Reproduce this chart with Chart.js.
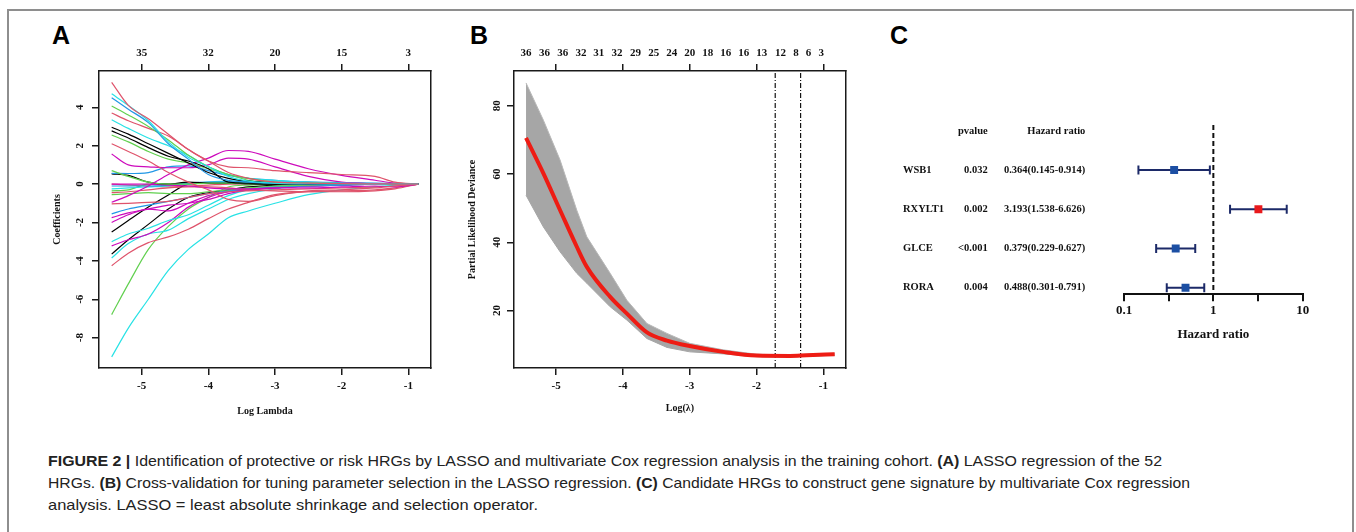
<!DOCTYPE html>
<html>
<head>
<meta charset="utf-8">
<script src="https://cdn.jsdelivr.net/npm/chart.js@4.4.1/dist/chart.umd.min.js"></script>
<style>
  body { margin: 0; background: #fff; width: 1356px; height: 532px; overflow: hidden; position: relative; }
  #frame { position: absolute; left: 7px; top: 9px; width: 1343px; height: 600px; border: 2px solid #8e8e8e; }
  .letter { position: absolute; top: 23px; font: bold 25px "Liberation Sans", Arial, sans-serif; line-height: 25px; color: #000; }
  .box { position: absolute; }
  .cap { position: absolute; left: 48px; white-space: nowrap; font: 15px "Liberation Sans Narrow", "Liberation Sans", sans-serif; line-height: 22px; color: #222; transform-origin: 0 0; }
</style>
</head>
<body>
<div id="frame"></div>
<div class="letter" style="left:52px">A</div>
<div class="letter" style="left:470px">B</div>
<div class="letter" style="left:890px">C</div>
<div class="box" style="left:20px;top:40px"><canvas id="lassoPath" width="430" height="385"></canvas></div>
<div class="box" style="left:440px;top:40px"><canvas id="cvCurve" width="430" height="385"></canvas></div>
<div class="box" style="left:880px;top:100px"><canvas id="forest" width="460" height="260"></canvas></div>
<div class="cap" id="cap1" style="top:450px"><b>FIGURE 2 |</b> Identification of protective or risk HRGs by LASSO and multivariate Cox regression analysis in the training cohort. <b>(A)</b> LASSO regression of the 52</div>
<div class="cap" id="cap2" style="top:472px">HRGs. <b>(B)</b> Cross-validation for tuning parameter selection in the LASSO regression. <b>(C)</b> Candidate HRGs to construct gene signature by multivariate Cox regression</div>
<div class="cap" id="cap3" style="top:494px">analysis. LASSO = least absolute shrinkage and selection operator.</div>
<script>
// ---- panel A: coefficient paths ----
const logLambdaA = [-5.45, -5.2, -4.9, -4.6, -4.3, -4.0, -3.7, -3.4, -3.0, -2.5, -2.0, -1.5, -1.2, -0.85];
const coefPaths = [
  [5.3, 4.1, 3.4, 2.6, 1.8, 1.2, 0.6, 0.3, 0.1, 0.05, 0.02, 0.01, 0, 0],
  [4.7, 4.1, 3.3, 2.2, 1.4, 0.9, 0.4, 0.15, 0.05, 0.02, 0.01, 0, 0, 0],
  [4.5, 3.9, 3.2, 2.1, 1.3, 0.5, 0.2, 0.1, 0.03, 0.01, 0, 0, 0, 0],
  [4.07, 3.6, 3.0, 2.3, 1.5, 0.9, 0.5, 0.3, 0.1, 0.05, 0.02, 0, 0, 0],
  [3.7, 3.3, 2.9, 2.5, 1.8, 1.2, 0.9, 0.85, 0.7, 0.6, 0.5, 0.4, 0.1, 0],
  [3.35, 2.9, 2.4, 2.0, 1.5, 0.9, 0.5, 0.3, 0.2, 0.1, 0.05, 0.02, 0, 0],
  [2.96, 2.6, 2.1, 1.6, 1.1, 0.6, 0.3, 0.15, 0.05, 0.02, 0, 0, 0, 0],
  [2.77, 2.4, 1.9, 1.45, 1.2, 0.8, 0.1, 0.05, 0.02, 0, 0, 0, 0, 0],
  [2.56, 2.2, 1.7, 1.3, 1.1, 0.8, 0.5, 0.2, 0.05, 0.02, 0, 0, 0, 0],
  [2.1, 1.7, 1.2, 0.6, 0.1, -0.3, -0.8, -0.9, -0.6, -0.35, -0.3, -0.2, -0.1, 0],
  [1.57, 1.0, 0.9, 0.85, 0.85, 1.0, 1.35, 1.3, 0.9, 0.4, 0.1, 0.02, 0, 0],
  [-0.95, -0.6, -0.1, 0.5, 1.0, 1.35, 1.75, 1.7, 1.3, 0.8, 0.45, 0.2, 0.05, 0],
  [0.7, 0.4, 0.1, 0, 0, 0.05, 0.05, 0.05, 0.03, 0.02, 0, 0, 0, 0],
  [0.56, 0.55, 0.6, 0.9, 0.95, 0.7, 0.45, 0.3, 0.2, 0.1, 0.05, 0, 0, 0],
  [0.53, 0.45, 0.1, 0, 0.1, 0.05, 0.03, 0.02, 0.01, 0, 0, 0, 0, 0],
  [0, 0, 0, -0.05, -0.1, -0.2, -0.25, -0.25, -0.2, -0.2, -0.15, -0.1, -0.15, 0],
  [-0.1, -0.1, -0.1, -0.05, 0.05, 0.1, 0.1, 0.1, 0.1, 0.1, 0.08, 0.05, 0.02, 0],
  [-0.25, -0.2, -0.15, -0.1, 0, 0.1, 0.15, 0.15, 0.1, 0.08, 0.05, 0.02, 0, 0],
  [-0.45, -0.4, -0.3, -0.2, -0.15, -0.15, -0.2, -0.3, -0.35, -0.4, -0.4, -0.35, -0.25, 0],
  [-0.55, -0.5, -0.45, -0.5, -0.5, -0.4, -0.3, -0.2, -0.1, -0.05, 0, 0, 0, 0],
  [-1.03, -1.0, -0.95, -0.9, -0.7, -0.5, -0.4, -0.35, -0.3, -0.25, -0.2, -0.15, -0.1, 0],
  [-1.55, -1.3, -1.1, -0.9, -0.7, -0.5, -0.35, -0.25, -0.15, -0.1, -0.05, 0, 0, 0],
  [-1.75, -1.5, -1.3, -1.1, -1.0, -0.8, -0.5, -0.3, -0.2, -0.1, -0.05, 0, 0, 0],
  [-2.0, -1.6, -1.3, -1.4, -1.0, -0.6, -0.4, -0.3, -0.2, -0.1, -0.05, 0, 0, 0],
  [-2.5, -1.9, -1.2, -0.57, 0, 0.05, 0.05, 0.02, 0, 0, 0, 0, 0, 0],
  [-3.0, -2.6, -2.3, -1.9, -1.6, -1.1, -0.6, -0.3, -0.15, -0.1, -0.05, 0, 0, 0],
  [-3.22, -2.9, -2.6, -2.0, -1.2, -0.7, -0.4, -0.3, -0.2, -0.1, -0.05, 0, 0, 0],
  [-3.65, -2.9, -2.1, -1.3, -0.7, -0.45, -0.3, -0.15, -0.05, 0, 0, 0, 0, 0],
  [-3.85, -3.1, -2.6, -2.4, -1.8, -1.3, -0.8, -0.5, -0.25, -0.1, -0.05, 0, 0, 0],
  [-4.25, -3.6, -3.05, -2.75, -2.35, -1.8, -1.3, -0.95, -0.55, -0.4, -0.35, -0.3, -0.2, 0],
  [-6.8, -5.2, -3.4, -2.2, -1.3, -0.7, -0.15, -0.05, 0, 0, 0, 0, 0, 0],
  [-9.0, -7.5, -6.0, -4.5, -3.4, -2.6, -1.75, -1.4, -1.0, -0.55, -0.3, -0.15, -0.05, 0],
  [-0.35, -0.3, 0.0, 0.0, 0.02, 0.05, 0.05, 0.03, 0.02, 0.01, 0, 0, 0, 0],
  [0, -0.05, -0.1, -0.15, -0.1, -0.05, 0, 0.02, 0.02, 0.01, 0, 0, 0, 0]
];
const lambdaTicks = [-5, -4, -3, -2, -1];
const dfTopA = [35, 32, 20, 15, 3];
const coefTicks = [-8, -6, -4, -2, 0, 2, 4];

// ---- panel B: cross-validation curve ----
const logLambdaB = [-5.45, -5.19, -4.94, -4.69, -4.54, -4.19, -3.94, -3.64, -3.34, -3.0, -2.5, -2.0, -1.5, -1.25, -0.83];
const cvMean = [70.6, 60.2, 49.4, 38.7, 32.8, 24.0, 19.1, 13.6, 11.2, 9.6, 7.9, 6.8, 6.7, 6.9, 7.2];
const cvUpper = [86.7, 75.8, 64.1, 49.4, 41.6, 30.9, 23.0, 16.2, 13.3, 10.4, 8.5, 7.2, 7.0, 7.2, 7.5];
const cvLower = [53.8, 44.5, 37.2, 30.9, 28.0, 21.1, 17.2, 11.8, 9.2, 7.9, 7.3, 6.5, 6.4, 6.6, 6.9];
const dfTopPosB = [-5.45, -5.175, -4.90, -4.626, -4.36, -4.09, -3.81, -3.54, -3.27, -3.0, -2.73, -2.46, -2.19, -1.92, -1.64, -1.41, -1.22, -1.03];
const dfTopB = [36, 36, 36, 32, 31, 32, 29, 25, 24, 20, 18, 16, 16, 13, 12, 8, 6, 3];
const lambdaMin = -1.72;
const lambda1se = -1.34;
const devianceTicks = [20, 40, 60, 80];

// ---- panel C: multivariate Cox ----
const genes = ['WSB1', 'RXYLT1', 'GLCE', 'RORA'];
const pValues = ['0.032', '0.002', '<0.001', '0.004'];
const hazardRatio = [0.364, 3.193, 0.379, 0.488];
const hrLow = [0.145, 1.538, 0.229, 0.301];
const hrHigh = [0.914, 6.626, 0.627, 0.791];
const hrTicks = [0.1, 0.3162, 1, 3.162, 10];
const hrTickLabels = ['0.1', '', '1', '', '10'];

const rPalette = ['#000000', '#DF536B', '#61D04F', '#2297E6', '#28E2E5', '#CD0BBC'];
const pathColor = [1, 4, 3, 2, 1, 4, 0, 0, 2, 1, 5, 5, 2, 3, 0, 5, 3, 4, 1, 2, 1, 3, 5, 5, 0, 4, 5, 0, 4, 1, 2, 4, 2, 1];

const serif = '"Liberation Serif", "Times New Roman", serif';
Chart.defaults.font.family = serif;
Chart.defaults.font.weight = 'bold';
Chart.defaults.color = '#111';
const ink = '#1a1a1a';
const tickFont = { family: serif, size: 11, weight: 'bold' };
const titleFont = { family: serif, size: 10, weight: 'bold' };

// R style: y tick labels turned parallel to the axis
const rotatedYLabels = {
    id: 'rotatedYLabels',
    afterDraw(chart, args, opts) {
        const scale = chart.scales.y;
        const ctx = chart.ctx;
        ctx.save();
        ctx.font = 'bold 11px ' + serif;
        ctx.fillStyle = '#111';
        ctx.textAlign = 'center';
        ctx.textBaseline = 'middle';
        scale.ticks.forEach(t => {
            ctx.save();
            ctx.translate(scale.right - opts.offset, scale.getPixelForValue(t.value));
            ctx.rotate(-Math.PI / 2);
            ctx.fillText(String(t.value), 0, 0);
            ctx.restore();
        });
        ctx.restore();
    }
};

function boxScales(cfg) {
    const grid = { drawOnChartArea: false, tickLength: 7, color: ink, lineWidth: 1.5 };
    const border = { display: true, color: ink, width: 1.5 };
    return {
        x: {
            type: 'linear', position: 'bottom', min: cfg.xMin, max: cfg.xMax,
            afterBuildTicks: s => { s.ticks = lambdaTicks.map(v => ({ value: v })); },
            afterFit: s => { s.height = cfg.bottom; },
            ticks: { font: tickFont, padding: 5, autoSkip: false, maxRotation: 0, callback: v => String(v) },
            grid, border,
            title: { display: true, text: cfg.xTitle, font: titleFont, padding: { top: 0, bottom: cfg.xTitlePad } }
        },
        xTop: {
            axis: 'x', type: 'linear', position: 'top', min: cfg.xMin, max: cfg.xMax,
            afterBuildTicks: s => { s.ticks = cfg.topPos.map(v => ({ value: v })); },
            afterFit: s => { s.height = cfg.top; },
            ticks: {
                font: tickFont, padding: 4.5, autoSkip: false, maxRotation: 0,
                callback: (v, i) => cfg.topLabel[i] === undefined ? '' : String(cfg.topLabel[i])
            },
            grid: Object.assign({}, grid, {
                tickColor: ctx => Number.isInteger(ctx.tick.value) ? ink : 'rgba(0,0,0,0)'
            }),
            border
        },
        y: {
            type: 'linear', position: 'left', min: cfg.yMin, max: cfg.yMax,
            afterBuildTicks: s => { s.ticks = cfg.yTicks.map(v => ({ value: v })); },
            afterFit: s => { s.width = cfg.left; },
            ticks: { display: false },
            grid, border,
            title: { display: true, text: cfg.yTitle, font: titleFont, padding: { top: cfg.yTitlePad, bottom: 0 } }
        },
        yRight: {
            axis: 'y', type: 'linear', position: 'right', min: cfg.yMin, max: cfg.yMax,
            afterFit: s => { s.width = cfg.right; },
            ticks: { display: false },
            grid: { drawOnChartArea: false, drawTicks: false },
            border
        }
    };
}

const baseOptions = {
    responsive: false,
    animation: false,
    events: [],
    layout: { padding: 0 },
    plugins: { legend: { display: false }, tooltip: { enabled: false } }
};

new Chart(document.getElementById('lassoPath'), {
    type: 'scatter',
    data: {
        datasets: coefPaths.map((path, k) => ({
            data: path.map((c, i) => ({ x: logLambdaA[i], y: c })),
            showLine: true,
            borderColor: rPalette[pathColor[k]],
            borderWidth: 1.2,
            pointRadius: 0,
            cubicInterpolationMode: 'monotone'
        }))
    },
    options: Object.assign({}, baseOptions, {
        plugins: Object.assign({}, baseOptions.plugins, { rotatedYLabels: { offset: 18.7 } }),
        scales: boxScales({
            xMin: -5.64, xMax: -0.66, yMin: -9.58, yMax: 5.89,
            left: 79, right: 19, top: 31, bottom: 57,
            topPos: lambdaTicks, topLabel: dfTopA, yTicks: coefTicks,
            xTitle: 'Log Lambda', xTitlePad: 7.3,
            yTitle: 'Coefficients', yTitlePad: 31
        })
    }),
    plugins: [rotatedYLabels]
});

// top axis of panel B: df labels at each lambda plus bare integer ticks
const topPosB = dfTopPosB.concat([-5, -4, -2, -1]).sort((a, b) => a - b);
const topLabelB = topPosB.map(p => {
    const k = dfTopPosB.indexOf(p);
    return k >= 0 ? dfTopB[k] : undefined;
});
const yMinB = 3.17, yMaxB = 90.2;

new Chart(document.getElementById('cvCurve'), {
    type: 'scatter',
    data: {
        datasets: [
            {
                data: cvMean.map((v, i) => ({ x: logLambdaB[i], y: v })),
                showLine: true, borderColor: '#ee1c14', borderWidth: 4,
                pointRadius: 0, cubicInterpolationMode: 'monotone'
            },
            {
                data: cvUpper.map((v, i) => ({ x: logLambdaB[i], y: v })),
                showLine: true, borderColor: '#b8b8b8', borderWidth: 1,
                backgroundColor: '#a6a6a6', fill: '+1',
                pointRadius: 0, tension: 0
            },
            {
                data: cvLower.map((v, i) => ({ x: logLambdaB[i], y: v })),
                showLine: true, borderColor: '#a6a6a6', borderWidth: 1,
                pointRadius: 0, tension: 0
            },
            {
                data: [{ x: lambdaMin, y: yMinB }, { x: lambdaMin, y: yMaxB }],
                showLine: true, borderColor: '#111', borderWidth: 1.2,
                borderDash: [5, 2, 1, 2], pointRadius: 0
            },
            {
                data: [{ x: lambda1se, y: yMinB }, { x: lambda1se, y: yMaxB }],
                showLine: true, borderColor: '#111', borderWidth: 1.2,
                borderDash: [5, 2, 1, 2], pointRadius: 0
            }
        ]
    },
    options: Object.assign({}, baseOptions, {
        plugins: Object.assign({}, baseOptions.plugins, { rotatedYLabels: { offset: 17 } }),
        scales: boxScales({
            xMin: -5.63, xMax: -0.665, yMin: yMinB, yMax: yMaxB,
            left: 74, right: 24.3, top: 31, bottom: 57,
            topPos: topPosB, topLabel: topLabelB, yTicks: devianceTicks,
            xTitle: 'Log(\u03bb)', xTitlePad: 10.7,
            yTitle: 'Partial Likelihood Deviance', yTitlePad: 26
        })
    }),
    plugins: [rotatedYLabels]
});

// panel C: text columns drawn next to the forest plot, on the same rows
const forestTable = {
    id: 'forestTable',
    afterDraw(chart) {
        const ctx = chart.ctx;
        const y = chart.scales.y;
        ctx.save();
        ctx.font = 'bold 10.5px ' + serif;
        ctx.fillStyle = '#111';
        ctx.textBaseline = 'middle';
        const head = y.getPixelForValue(-1);
        ctx.textAlign = 'right';
        ctx.fillText('pvalue', 107.7, head);
        ctx.fillText('Hazard ratio', 205.3, head);
        genes.forEach((g, i) => {
            const py = y.getPixelForValue(i);
            ctx.textAlign = 'left';
            ctx.fillText(g, 23, py);
            ctx.textAlign = 'right';
            ctx.fillText(pValues[i], 107.7, py);
            ctx.fillText(`${hazardRatio[i].toFixed(3)}(${hrLow[i].toFixed(3)}-${hrHigh[i].toFixed(3)})`, 205.3, py);
        });
        ctx.restore();
    }
};
const yMinC = -1.148, yMaxC = 3.168;
const navy = '#1c2a68';

new Chart(document.getElementById('forest'), {
    type: 'scatter',
    data: {
        datasets: [
            {
                data: genes.map((g, i) => ({ x: hazardRatio[i], y: i })),
                pointStyle: 'rect', pointRadius: 5.6, pointBorderWidth: 0,
                pointBackgroundColor: hazardRatio.map(v => v > 1 ? '#e8191c' : '#1c4fa3')
            },
            ...genes.map((g, i) => ({
                data: [{ x: hrLow[i], y: i }, { x: hrHigh[i], y: i }],
                showLine: true, borderColor: navy, borderWidth: 2,
                pointStyle: 'line', pointRotation: 90, pointRadius: 4.5,
                pointBorderColor: navy, pointBorderWidth: 2
            })),
            {
                data: [{ x: 1, y: yMinC }, { x: 1, y: yMaxC }],
                showLine: true, borderColor: '#111', borderWidth: 2,
                borderDash: [5, 3], pointRadius: 0
            }
        ]
    },
    options: Object.assign({}, baseOptions, {
        layout: { padding: { left: 244, right: 37.3, top: 25, bottom: 0 } },
        scales: {
            x: {
                type: 'logarithmic', position: 'bottom', min: 0.1, max: 10,
                afterBuildTicks: s => { s.ticks = hrTicks.map(v => ({ value: v })); },
                afterFit: s => { s.height = 65.7; },
                ticks: {
                    font: { family: serif, size: 13, weight: 'bold' }, padding: 2,
                    autoSkip: false, maxRotation: 0, callback: (v, i) => hrTickLabels[i]
                },
                grid: { drawOnChartArea: false, tickLength: 7, color: '#111', lineWidth: 2 },
                border: { display: true, color: '#111', width: 2 },
                title: {
                    display: true, text: 'Hazard ratio',
                    font: { family: serif, size: 13, weight: 'bold' },
                    padding: { top: 0, bottom: 17.9 }
                }
            },
            y: { type: 'linear', display: false, reverse: true, min: yMinC, max: yMaxC }
        }
    }),
    plugins: [forestTable]
});

// caption: stretch each line to its printed length
const captionWidths = { cap1: 1114, cap2: 1142, cap3: 490 };
function fitCaption() {
    Object.keys(captionWidths).forEach(id => {
        const el = document.getElementById(id);
        el.style.transform = 'none';
        const k = captionWidths[id] / el.getBoundingClientRect().width;
        el.style.transform = `scaleX(${k})`;
    });
}
fitCaption();
if (document.fonts) document.fonts.ready.then(fitCaption);
</script>
</body>
</html>
